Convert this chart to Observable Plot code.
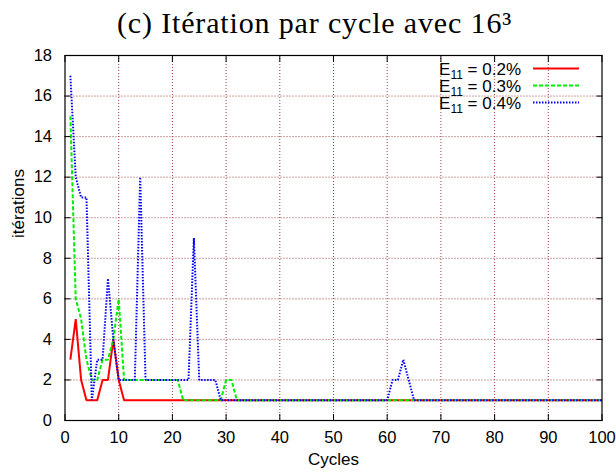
<!DOCTYPE html>
<html>
<head>
<meta charset="utf-8">
<script src="https://cdn.jsdelivr.net/npm/d3@7"></script>
<script src="https://cdn.jsdelivr.net/npm/@observablehq/plot@0.6"></script>
<style>
html, body { margin: 0; padding: 0; background: #ffffff; }
#chart { width: 616px; height: 472px; }
</style>
</head>
<body>
<div id="chart"></div>
<script>
// ---------- data ----------
const title = "(c) Itération par cycle avec 16³";
const xLabel = "Cycles";
const yLabel = "itérations";
const xTicks = [0, 10, 20, 30, 40, 50, 60, 70, 80, 90, 100];
const yTicks = [0, 2, 4, 6, 8, 10, 12, 14, 16, 18];
const legendPrefix = "E";
const legendSub = "11";
const legendValues = ["0.2%", "0.3%", "0.4%"];

const cycles = [
  1, 2, 3, 4, 5, 6, 7, 8, 9, 10,
  11, 12, 13, 14, 15, 16, 17, 18, 19, 20,
  21, 22, 23, 24, 25, 26, 27, 28, 29, 30,
  31, 32, 33, 34, 35, 36, 37, 38, 39, 40,
  41, 42, 43, 44, 45, 46, 47, 48, 49, 50,
  51, 52, 53, 54, 55, 56, 57, 58, 59, 60,
  61, 62, 63, 64, 65, 66, 67, 68, 69, 70,
  71, 72, 73, 74, 75, 76, 77, 78, 79, 80,
  81, 82, 83, 84, 85, 86, 87, 88, 89, 90,
  91, 92, 93, 94, 95, 96, 97, 98, 99, 100
];

// E11 = 0.2%
const iter02 = [
  3, 5, 2, 1, 1, 1, 2, 2, 4, 2,
  1, 1, 1, 1, 1, 1, 1, 1, 1, 1,
  1, 1, 1, 1, 1, 1, 1, 1, 1, 1,
  1, 1, 1, 1, 1, 1, 1, 1, 1, 1,
  1, 1, 1, 1, 1, 1, 1, 1, 1, 1,
  1, 1, 1, 1, 1, 1, 1, 1, 1, 1,
  1, 1, 1, 1, 1, 1, 1, 1, 1, 1,
  1, 1, 1, 1, 1, 1, 1, 1, 1, 1,
  1, 1, 1, 1, 1, 1, 1, 1, 1, 1,
  1, 1, 1, 1, 1, 1, 1, 1, 1, 1
];

// E11 = 0.3%
const iter03 = [
  15, 6, 5, 3, 2, 2, 3, 3, 4, 6,
  2, 2, 2, 2, 2, 2, 2, 2, 2, 2,
  2, 1, 1, 1, 1, 1, 1, 1, 1, 2,
  2, 1, 1, 1, 1, 1, 1, 1, 1, 1,
  1, 1, 1, 1, 1, 1, 1, 1, 1, 1,
  1, 1, 1, 1, 1, 1, 1, 1, 1, 1,
  1, 1, 1, 1, 1, 1, 1, 1, 1, 1,
  1, 1, 1, 1, 1, 1, 1, 1, 1, 1,
  1, 1, 1, 1, 1, 1, 1, 1, 1, 1,
  1, 1, 1, 1, 1, 1, 1, 1, 1, 1
];

// E11 = 0.4%
const iter04 = [
  17, 12, 11, 11, 1, 3, 3, 7, 4, 2,
  2, 2, 2, 12, 2, 2, 2, 2, 2, 2,
  2, 2, 2, 9, 2, 2, 2, 2, 1, 1,
  1, 1, 1, 1, 1, 1, 1, 1, 1, 1,
  1, 1, 1, 1, 1, 1, 1, 1, 1, 1,
  1, 1, 1, 1, 1, 1, 1, 1, 1, 1,
  2, 2, 3, 2, 1, 1, 1, 1, 1, 1,
  1, 1, 1, 1, 1, 1, 1, 1, 1, 1,
  1, 1, 1, 1, 1, 1, 1, 1, 1, 1,
  1, 1, 1, 1, 1, 1, 1, 1, 1, 1
];

// ---------- styles ----------
const seriesStyles = [
  {stroke: "#ff0000", strokeWidth: 2, strokeDasharray: null},
  {stroke: "#00ee00", strokeWidth: 2, strokeDasharray: "4,2"},
  {stroke: "#0000ff", strokeWidth: 2, strokeDasharray: "1.5,1.5"}
];
const gridColor = "#a04040";
const fontSans = "'Liberation Sans', Arial, Helvetica, sans-serif";
const fontSerif = "'Liberation Serif', 'Times New Roman', serif";

const toRows = (vals) => cycles.map((c, i) => ({cycle: c, value: vals[i]}));
const seriesData = [toRows(iter02), toRows(iter03), toRows(iter04)];

const gridOpts = {stroke: gridColor, strokeOpacity: 1, strokeWidth: 1, strokeDasharray: "1,2"};

const svg = Plot.plot({
  width: 616,
  height: 472,
  marginTop: 55,
  marginBottom: 52,
  marginLeft: 64.5,
  marginRight: 14.5,
  x: {domain: [0, 100]},
  y: {domain: [0, 18]},
  style: {fontFamily: fontSans, fontSize: "16.5px", color: "black", background: "white"},
  marks: [
    Plot.gridX(xTicks.slice(1, -1), gridOpts),
    Plot.gridY(yTicks.slice(1, -1), gridOpts),
    ...seriesData.map((rows, i) => Plot.line(rows, {
      x: "cycle", y: "value",
      stroke: seriesStyles[i].stroke,
      strokeWidth: seriesStyles[i].strokeWidth,
      strokeDasharray: seriesStyles[i].strokeDasharray,
      strokeLinejoin: "miter",
      strokeLinecap: "butt"
    })),
    Plot.frame({stroke: "black", strokeWidth: 1.2}),
    Plot.axisX(xTicks, {anchor: "bottom", tickSize: -6, tickPadding: 17, label: null, tickFormat: (d) => String(d), fontSize: 16.5}),
    Plot.axisX(xTicks, {anchor: "top", tickSize: -6, fill: "none", label: null}),
    Plot.axisY(yTicks, {anchor: "left", tickSize: -6, tickPadding: 19, label: null, tickFormat: (d) => String(d), fontSize: 16.5}),
    Plot.axisY(yTicks, {anchor: "right", tickSize: -6, fill: "none", label: null}),
    Plot.text([xLabel], {text: (d) => d, frameAnchor: "bottom", lineAnchor: "middle", dy: 39, fontSize: 17}),
    Plot.text([yLabel], {text: (d) => d, frameAnchor: "left", lineAnchor: "middle", dx: -46, rotate: -90, fontSize: 17}),
    Plot.text([title], {text: (d) => d, frameAnchor: "top", lineAnchor: "middle", dx: -19, dy: -32, fontSize: 30, fontFamily: fontSerif})
  ]
});

// widen the title a little, like the LaTeX font of the original
d3.select(svg).selectAll("text")
  .filter(function () { return this.textContent === title; })
  .style("letter-spacing", "0.85px");

// ---------- legend (inside top-right) ----------
const g = d3.select(svg).append("g").attr("class", "legend");
legendValues.forEach((v, i) => {
  const cy = 68.5 + i * 17;
  const t = g.append("text")
    .attr("x", 521)
    .attr("y", cy + 6)
    .attr("text-anchor", "end")
    .attr("font-family", fontSans)
    .attr("font-size", 17)
    .attr("fill", "black");
  t.append("tspan").text(legendPrefix);
  t.append("tspan").attr("font-size", 12).attr("dy", 4).text(legendSub);
  t.append("tspan").attr("dy", -4).text(" = " + v);
  const st = seriesStyles[i];
  g.append("line")
    .attr("x1", 533).attr("x2", 579)
    .attr("y1", cy).attr("y2", cy)
    .attr("stroke", st.stroke)
    .attr("stroke-width", st.strokeWidth)
    .attr("stroke-dasharray", st.strokeDasharray);
});

document.getElementById("chart").appendChild(svg);
</script>
</body>
</html>
